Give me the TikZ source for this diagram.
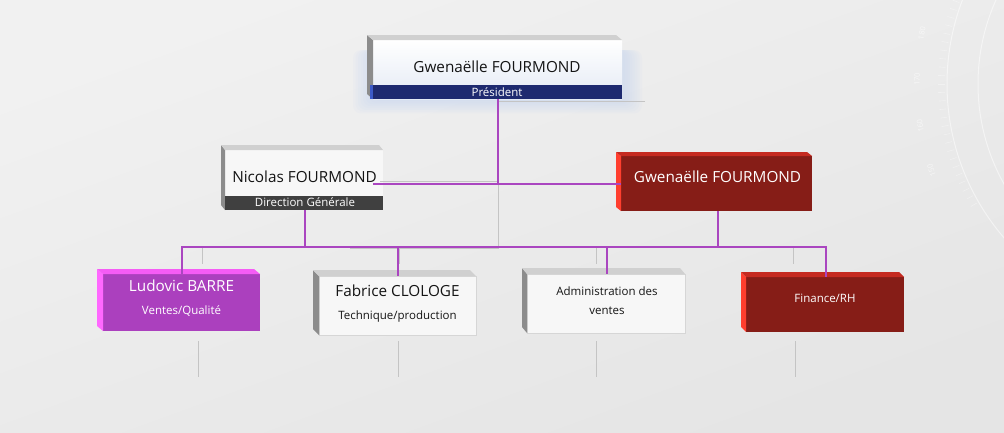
\documentclass[tikz,border=0pt]{standalone}
\usepackage{fontspec}
\setmainfont{Open Sans}
\usetikzlibrary{calc}
\definecolor{bgT}{RGB}{241,241,241}
\definecolor{bgB}{RGB}{229,229,229}
\definecolor{purpline}{RGB}{170,70,192}
\definecolor{grayline}{RGB}{196,196,196}
\definecolor{presbot}{RGB}{228,234,245}
\definecolor{presband}{RGB}{30,42,112}
\definecolor{bandedge}{RGB}{60,90,200}
\definecolor{presglow}{RGB}{196,213,240}
\definecolor{darkband}{RGB}{64,64,64}
\definecolor{bevL}{RGB}{140,140,140}
\definecolor{bevT}{RGB}{208,208,208}
\definecolor{grayface}{RGB}{247,247,247}
\definecolor{grayedge}{RGB}{214,214,214}
\definecolor{redface}{RGB}{134,29,23}
\definecolor{redT}{RGB}{197,42,32}
\definecolor{redL}{RGB}{255,62,46}
\definecolor{purface}{RGB}{171,64,190}
\definecolor{purT}{RGB}{245,92,245}
\definecolor{purL}{RGB}{255,104,255}
\definecolor{txt}{RGB}{20,20,20}
\newcommand\boxbevel[5]{%
  \fill[#4] ($(#1.north west)+(-#2,-#3)$) -- (#1.north west) -- (#1.south west) -- ($(#1.south west)+(-#2,-#3)$) -- cycle;
  \fill[#5] ($(#1.north west)+(-#2,-#3)$) -- ($(#1.north east)+(-#2,-#3)$) -- (#1.north east) -- (#1.north west) -- cycle;}
\begin{document}
\begin{tikzpicture}[x=1pt,y=-1pt,
  facebox/.style={rectangle, inner sep=0pt, outer sep=0pt, draw=none},
  nm/.style={anchor=base, inner sep=0pt, text=txt, font=\fontsize{15.3}{18}\selectfont},
  sm/.style={anchor=base, inner sep=0pt, text=txt, font=\fontsize{11.5}{14}\selectfont},
  wt/.style={text=white},
  purp/.style={draw=purpline, line width=1.2pt},
  gline/.style={draw=grayline, line width=0.9pt},
  deco/.style={draw=white, opacity=0.5, line width=1pt}]
\useasboundingbox (0,0) rectangle (1004,432);
\shade[top color=bgT, bottom color=bgB, shading angle=20] (0,0) rectangle (1004,432);
% faint protractor decoration
\begin{scope}
\clip (0,0) rectangle (1004,432);
\draw[deco] (1183,84) circle[radius=236];
\draw[deco] (1183,84) circle[radius=205];
\foreach \a in {150,152,...,210} {\draw[deco, opacity=0.35, line width=0.6pt] ($(1183,84)+(\a:238)$) -- ($(1183,84)+(\a:245)$);}
\foreach \a/\n in {191/180,181/170,171/160,161/150}
  {\node[text=white, opacity=0.6, inner sep=0pt, font=\fontsize{7.5}{8}\selectfont, rotate=270-\a] at ($(1183,84)+(\a:266)$) {\n};}
\end{scope}
% glow behind president
\foreach \i in {1,...,8}
  {\fill[presglow, opacity=0.09, rounded corners=8pt] (373-\i*2.5, 50) rectangle (622+\i*2.5, 99+\i*1.8);}
% boxes
\node[facebox, top color=white, bottom color=presbot, minimum width=249pt, minimum height=59pt] (pres) at (497.5,69.5) {};
\boxbevel{pres}{6}{5}{bevL}{bevT}
\node[facebox, fill=presband, minimum width=252pt, minimum height=14pt] (presband) at (496,92) {};
\fill[bandedge] (presband.north west) rectangle ++(3,14);
\node[facebox, fill=grayface, minimum width=158pt, minimum height=60pt] (nic) at (304,180) {};
\boxbevel{nic}{4}{5}{bevL}{bevT}
\node[facebox, fill=darkband, minimum width=158pt, minimum height=14pt] (nicband) at (304,203) {};
\node[facebox, fill=redface, minimum width=191pt, minimum height=55pt] (red) at (716.5,183.5) {};
\boxbevel{red}{5}{4}{redL}{redT}
\node[facebox, fill=purface, minimum width=157pt, minimum height=57pt] (ludo) at (181.5,302.5) {};
\boxbevel{ludo}{6}{5}{purL}{purT}
\node[facebox, fill=grayface, draw=grayedge, line width=0.8pt, minimum width=157pt, minimum height=59pt] (fab) at (397.5,305.5) {};
\boxbevel{fab}{6}{6}{bevL}{bevT}
\node[facebox, fill=grayface, draw=grayedge, line width=0.8pt, minimum width=158pt, minimum height=59pt] (adm) at (606,303.5) {};
\boxbevel{adm}{5}{6}{bevL}{bevT}
\node[facebox, fill=redface, minimum width=158pt, minimum height=55pt] (fin) at (825,304.5) {};
\boxbevel{fin}{5}{5}{redL}{redT}
% texts
\node[nm] (presT) at (497,72.3) {Gwenaëlle FOURMOND};
\node[sm, wt] (presS) at (497,96.7) {Président};
\node[nm] (nicT) at (304.5,182) {Nicolas FOURMOND};
\node[sm, wt] (nicS) at (305,206.7) {Direction Générale};
\node[nm, wt] (redT) at (717.5,182.7) {Gwenaëlle FOURMOND};
\node[nm, wt] (ludoT) at (181.5,291) {Ludovic BARRE};
\node[sm, wt] (ludoS) at (181.5,314) {Ventes/Qualité};
\node[nm] (fabT) at (397.5,296) {Fabrice CLOLOGE};
\node[sm] (fabS) at (397.5,319) {Technique/production};
\node[sm] (admT) at (607,295.7) {Administration des};
\node[sm] (admS) at (607,314) {ventes};
\node[sm, wt] (finT) at (825,302.3) {Finance/RH};
% coordinates
\coordinate (pj) at (498,184);
\coordinate (nicR) at (373,184);
\coordinate (busL) at (182,247);
\coordinate (busN) at (305,247);
\coordinate (busF) at (398,247);
\coordinate (busA) at (607,247);
\coordinate (busG) at (718,247);
\coordinate (busR) at (826,247);
\coordinate (g1) at (498,101);
\coordinate (g2) at (645,101);
\coordinate (g3) at (498,248);
\coordinate (g4) at (350,248);
\coordinate (g5) at (380,181);
% gray lines
\draw[gline] (g2) -- (g1) -- (g3) -- (g4);
\draw[gline] (g5) -- (g5 -| g1);
\foreach \x in {202,399,596,793} {\draw[gline] (\x,248) -- (\x,264);}
\foreach \x in {198,398,596,795} {\draw[gline, line width=0.7pt] (\x,341) -- (\x,377);}
% purple connectors
\draw[purp] (presband.south -| pj) -- (pj);
\draw[purp] (nicR) -- (nicR -| red.west);
\draw[purp] (nicband.south -| busN) -- (busN);
\draw[purp] (red.south -| busG) -- (busG);
\draw[purp] (ludo.north -| busL) -- (busL) -- (busR) -- (fin.north -| busR);
\draw[purp] (busF) -- (fab.north -| busF);
\draw[purp] (busA) -- (adm.north -| busA);
\end{tikzpicture}
\end{document}
